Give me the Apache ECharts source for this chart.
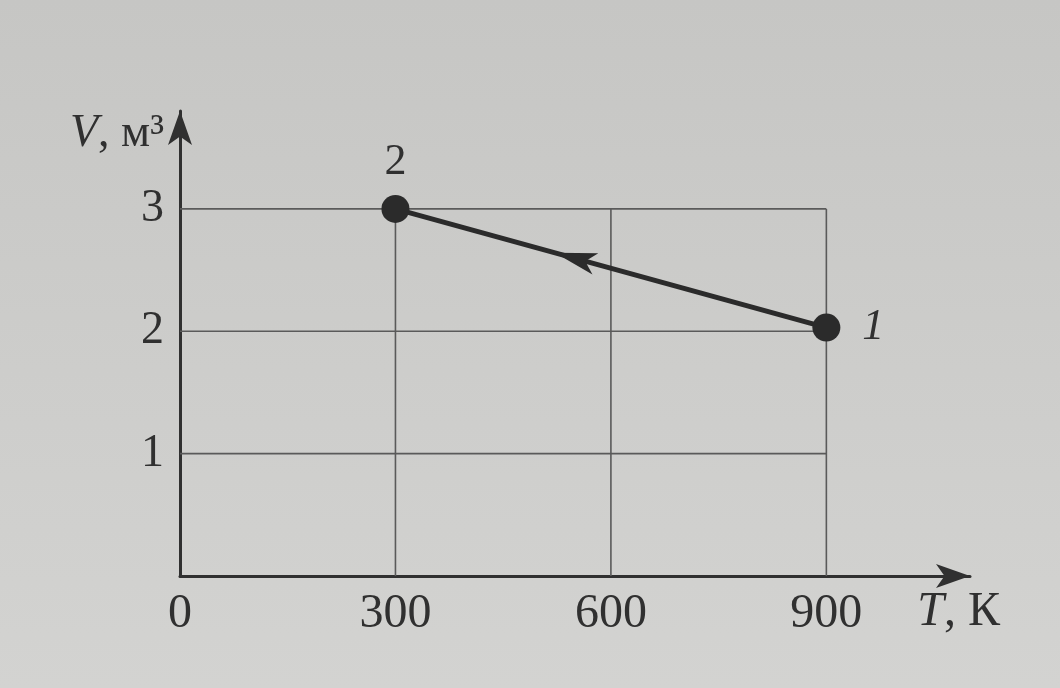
<!DOCTYPE html>
<html><head><meta charset="utf-8">
<script src="https://cdn.jsdelivr.net/npm/echarts@6/dist/echarts.min.js"></script>
<style>html,body{margin:0;padding:0;background:#cfcfcc}#c{width:1060px;height:688px}</style>
</head><body><div id="c"></div>
<script>
// Data
const states = ['1', '2'];
const temperatureK = [900, 300];
const volumeM3 = [2.03, 3];
const xTickLabels = [0, 300, 600, 900];
const yTickLabels = [1, 2, 3];
const gridT = [300, 600, 900];
const gridV = [1, 2, 3];

const ink = '#303030';
const font = '"Liberation Serif", "DejaVu Serif", serif';

const gridSeries = [];
gridV.forEach(v => gridSeries.push({type:'line', data:[[0,v],[gridT[gridT.length-1],v]], symbol:'none', silent:true,
  lineStyle:{color:'#5a5a5a', width:1.6}, z:1}));
gridT.forEach(t => gridSeries.push({type:'line', data:[[t,0],[t,gridV[gridV.length-1]]], symbol:'none', silent:true,
  lineStyle:{color:'#5a5a5a', width:1.6}, z:1}));

const chart = echarts.init(document.getElementById('c'));
chart.setOption({
  backgroundColor: {type:'linear', x:0, y:0, x2:0, y2:1, colorStops:[{offset:0,color:'#c6c6c4'},{offset:1,color:'#d3d3d1'}]},
  animation:false,
  grid:{left:180, right:90, top:111, bottom:112},
  xAxis:{type:'value', min:0, max:1100, interval:300,
    axisLine:{show:true, symbol:['none','arrow'], symbolSize:[18,34], lineStyle:{color:ink, width:3}},
    axisTick:{show:false}, splitLine:{show:false},
    axisLabel:{margin:14, color:ink, fontFamily:font, fontSize:48,
      formatter:v => xTickLabels.indexOf(v) >= 0 ? String(v) : ''},
    name:'{i|T}, К', nameLocation:'end', nameGap:30,
    nameTextStyle:{color:ink, fontFamily:font, fontSize:48, align:'right', verticalAlign:'top', padding:[12,0,0,0],
      rich:{i:{fontStyle:'italic', fontFamily:font, fontSize:48, color:ink}}}
  },
  yAxis:{type:'value', min:0, max:3.8, interval:1,
    axisLine:{show:true, symbol:['none','arrow'], symbolSize:[18,34], lineStyle:{color:ink, width:3}},
    axisTick:{show:false}, splitLine:{show:false},
    axisLabel:{margin:16, color:ink, fontFamily:font, fontSize:46,
      formatter:v => yTickLabels.indexOf(v) >= 0 ? String(v) : ''},
    name:'{i|V}, м³', nameLocation:'end', nameGap:0,
    nameTextStyle:{color:ink, fontFamily:font, fontSize:46, align:'right', verticalAlign:'top', padding:[0,16,0,0],
      rich:{i:{fontStyle:'italic', fontFamily:font, fontSize:46, color:ink}}}
  },
  series: gridSeries.concat([
    {type:'line', data: temperatureK.map((t,i)=>[t, volumeM3[i]]), symbol:'none',
      lineStyle:{color:'#2b2b2b', width:5}, z:3},
    {type:'custom', z:4, data:[[temperatureK[0], volumeM3[0], temperatureK[1], volumeM3[1]]],
      renderItem:(params, api) => {
        const a = api.coord([api.value(0), api.value(1)]);
        const b = api.coord([api.value(2), api.value(3)]);
        const f = 0.63;
        const tip = [a[0] + (b[0]-a[0])*f, a[1] + (b[1]-a[1])*f];
        const len = Math.hypot(b[0]-a[0], b[1]-a[1]);
        const ux = (b[0]-a[0])/len, uy = (b[1]-a[1])/len;
        const L = 42, W = 11;
        const base = [tip[0]-ux*L, tip[1]-uy*L];
        const p1 = [base[0]-uy*W, base[1]+ux*W];
        const p2 = [base[0]+uy*W, base[1]-ux*W];
        const notch = [tip[0]-ux*L*0.75, tip[1]-uy*L*0.75];
        return {type:'polygon', shape:{points:[tip,p1,notch,p2]}, style:{fill:'#2b2b2b'}};
      }},
    {type:'scatter', z:5, symbolSize:28, itemStyle:{color:'#2b2b2b', opacity:1},
      data: temperatureK.map((t,i)=>({value:[t, volumeM3[i]], name:states[i],
        label:{show:true, formatter:states[i], position: i===0 ? 'right' : 'top', distance: i===0 ? 22 : 10,
          color:ink, opacity:1, fontFamily:font, fontSize:44, fontStyle: i===0 ? 'italic' : 'normal'}}))}
  ])
});
</script></body></html>
